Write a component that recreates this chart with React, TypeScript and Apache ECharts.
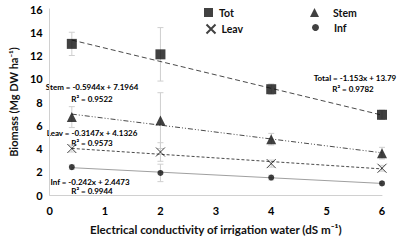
import React, { useEffect, useRef } from "react";
import * as echarts from "echarts";

const xValues = [0.4, 2, 4, 6];
const totValues = [13.0, 12.1, 9.1, 6.9];
const totErr = [1.0, 2.3, 0.45, 0.4];
const stemValues = [6.7, 6.4, 4.8, 3.6];
const stemErr = [0.9, 2.4, 0.5, 0.5];
const leavValues = [4.0, 3.7, 2.7, 2.3];
const leavErr = [0.3, 0.8, 0.3, 0.25];
const infValues = [2.4, 1.9, 1.5, 1.0];
const infErr = [0.2, 0.75, 0.2, 0.15];

// printed trend equations: [slope, intercept]
const totTrend = [-1.153, 13.79];
const stemTrend = [-0.5944, 7.1964];
const leavTrend = [-0.3147, 4.1326];
const infTrend = [-0.242, 2.4473];

const xTicks = [0, 1, 2, 3, 4, 5, 6];
const FONT = "Lato";
const CROSS = "path://M0,0L10,10M10,0L0,10";

function pts(vals: number[]) {
  return xValues.map((x, i) => [x, vals[i]]);
}
function errData(vals: number[], err: number[]) {
  return xValues.map((x, i) => [x, vals[i] - err[i], vals[i] + err[i]]);
}
function trend(c: number[]) {
  const x0 = xValues[0];
  const x1 = xValues[xValues.length - 1];
  return [
    [x0, c[0] * x0 + c[1]],
    [x1, c[0] * x1 + c[1]],
  ];
}

function errSeries(vals: number[], err: number[]) {
  return {
    type: "custom",
    z: 1,
    silent: true,
    data: errData(vals, err),
    renderItem: (params: any, api: any) => {
      const x = api.value(0);
      const lo = api.coord([x, api.value(1)]);
      const hi = api.coord([x, api.value(2)]);
      const cw = 3;
      const st = { stroke: "#cfcfcf", lineWidth: 1 };
      return {
        type: "group",
        children: [
          { type: "line", shape: { x1: lo[0], y1: lo[1], x2: hi[0], y2: hi[1] }, style: st },
          { type: "line", shape: { x1: lo[0] - cw, y1: lo[1], x2: lo[0] + cw, y2: lo[1] }, style: st },
          { type: "line", shape: { x1: hi[0] - cw, y1: hi[1], x2: hi[0] + cw, y2: hi[1] }, style: st },
        ],
      };
    },
  };
}

function trendSeries(c: number[], color: string, type: any) {
  return {
    type: "line",
    z: 2,
    silent: true,
    symbol: "none",
    data: trend(c),
    lineStyle: { color, width: 1, type },
  };
}

const legendText = { fontFamily: FONT, fontWeight: "bold", fontSize: 10.5, color: "#111" };

export default function App() {
  const ref = useRef<HTMLDivElement>(null);
  useEffect(() => {
    document.body.style.margin = "0";
    const chart = echarts.init(ref.current!, null, { renderer: "svg" });
    const eqStyle = (text: string, x: number, y: number) => ({
      type: "text",
      x,
      y,
      style: {
        text,
        fontFamily: FONT,
        fontWeight: "bold",
        fontSize: 8,
        fill: "#000",
        align: "center",
        verticalAlign: "middle",
      },
    });
    chart.setOption({
      animation: false,
      grid: { left: 39, right: 18, top: 9, bottom: 44 },
      legend: [
        { data: ["Tot"], left: 199, top: 2, itemWidth: 9, itemHeight: 9, textStyle: { ...legendText, padding: [0, 0, 0, 1] } },
        { data: ["Stem"], left: 305, top: 2, itemWidth: 9, itemHeight: 9, textStyle: { ...legendText, padding: [0, 0, 0, 9] } },
        { data: ["Leav"], left: 199, top: 17, itemWidth: 9, itemHeight: 9, textStyle: { ...legendText, padding: [0, 0, 0, 1] } },
        { data: ["Inf"], left: 307, top: 17, itemWidth: 7, itemHeight: 7, textStyle: { ...legendText, padding: [0, 0, 0, 10] } },
      ],
      xAxis: {
        type: "value",
        min: 0,
        max: 6,
        interval: 1,
        name: "Electrical conductivity of irrigation water (dS m⁻¹)",
        nameLocation: "middle",
        nameGap: 28,
        nameTextStyle: { fontFamily: FONT, fontWeight: "bold", fontSize: 11.6, color: "#111" },
        axisLine: { lineStyle: { color: "#d0d0d0" } },
        axisTick: { show: false },
        splitLine: { show: false },
        axisLabel: {
          fontFamily: FONT,
          fontWeight: "bold",
          fontSize: 11,
          color: "#000",
          margin: 10,
          formatter: (v: number) => (xTicks.includes(v) ? String(v) : ""),
        },
      },
      yAxis: {
        type: "value",
        min: 0,
        max: 16,
        interval: 2,
        name: "Biomass (Mg DW ha⁻¹)",
        nameLocation: "middle",
        nameGap: 27,
        nameTextStyle: { fontFamily: FONT, fontWeight: "bold", fontSize: 11, color: "#111" },
        axisLine: { show: true, lineStyle: { color: "#d0d0d0" } },
        axisTick: { show: false },
        splitLine: { show: false },
        axisLabel: { fontFamily: FONT, fontWeight: "bold", fontSize: 11, color: "#000", margin: 7 },
      },
      graphic: [
        eqStyle("Stem = -0.5944x + 7.1964", 92, 87),
        eqStyle("R² = 0.9522", 92, 99),
        eqStyle("Total = -1.153x + 13.79", 355, 78),
        eqStyle("R² = 0.9782", 353, 89),
        eqStyle("Leav = -0.3147x + 4.1326", 92, 133),
        eqStyle("R² = 0.9573", 92, 143),
        eqStyle("Inf = -0.242x + 2.4473", 90, 182),
        eqStyle("R² = 0.9944", 92, 191),
      ],
      series: [
        errSeries(totValues, totErr),
        errSeries(stemValues, stemErr),
        errSeries(leavValues, leavErr),
        errSeries(infValues, infErr),
        trendSeries(totTrend, "#4a4a4a", [5, 3]),
        trendSeries(stemTrend, "#4a4a4a", [5, 2, 1, 2, 1, 2]),
        trendSeries(leavTrend, "#4a4a4a", [3, 2]),
        trendSeries(infTrend, "#a0a0a0", "solid"),
        {
          name: "Tot",
          type: "scatter",
          z: 3,
          symbol: "rect",
          symbolSize: 10,
          itemStyle: { color: "#111" },
          data: pts(totValues),
        },
        {
          name: "Stem",
          type: "scatter",
          z: 3,
          symbol: "triangle",
          symbolSize: 10,
          itemStyle: { color: "#111" },
          data: pts(stemValues),
        },
        {
          name: "Leav",
          type: "scatter",
          z: 3,
          symbol: CROSS,
          symbolSize: 9,
          itemStyle: { color: "none", borderColor: "#111", borderWidth: 1 },
          data: pts(leavValues),
        },
        {
          name: "Inf",
          type: "scatter",
          z: 3,
          symbol: "circle",
          symbolSize: 6,
          itemStyle: { color: "#111" },
          data: pts(infValues),
        },
      ],
    });
    return () => chart.dispose();
  }, []);
  return <div ref={ref} style={{ width: 400, height: 240 }} />;
}
